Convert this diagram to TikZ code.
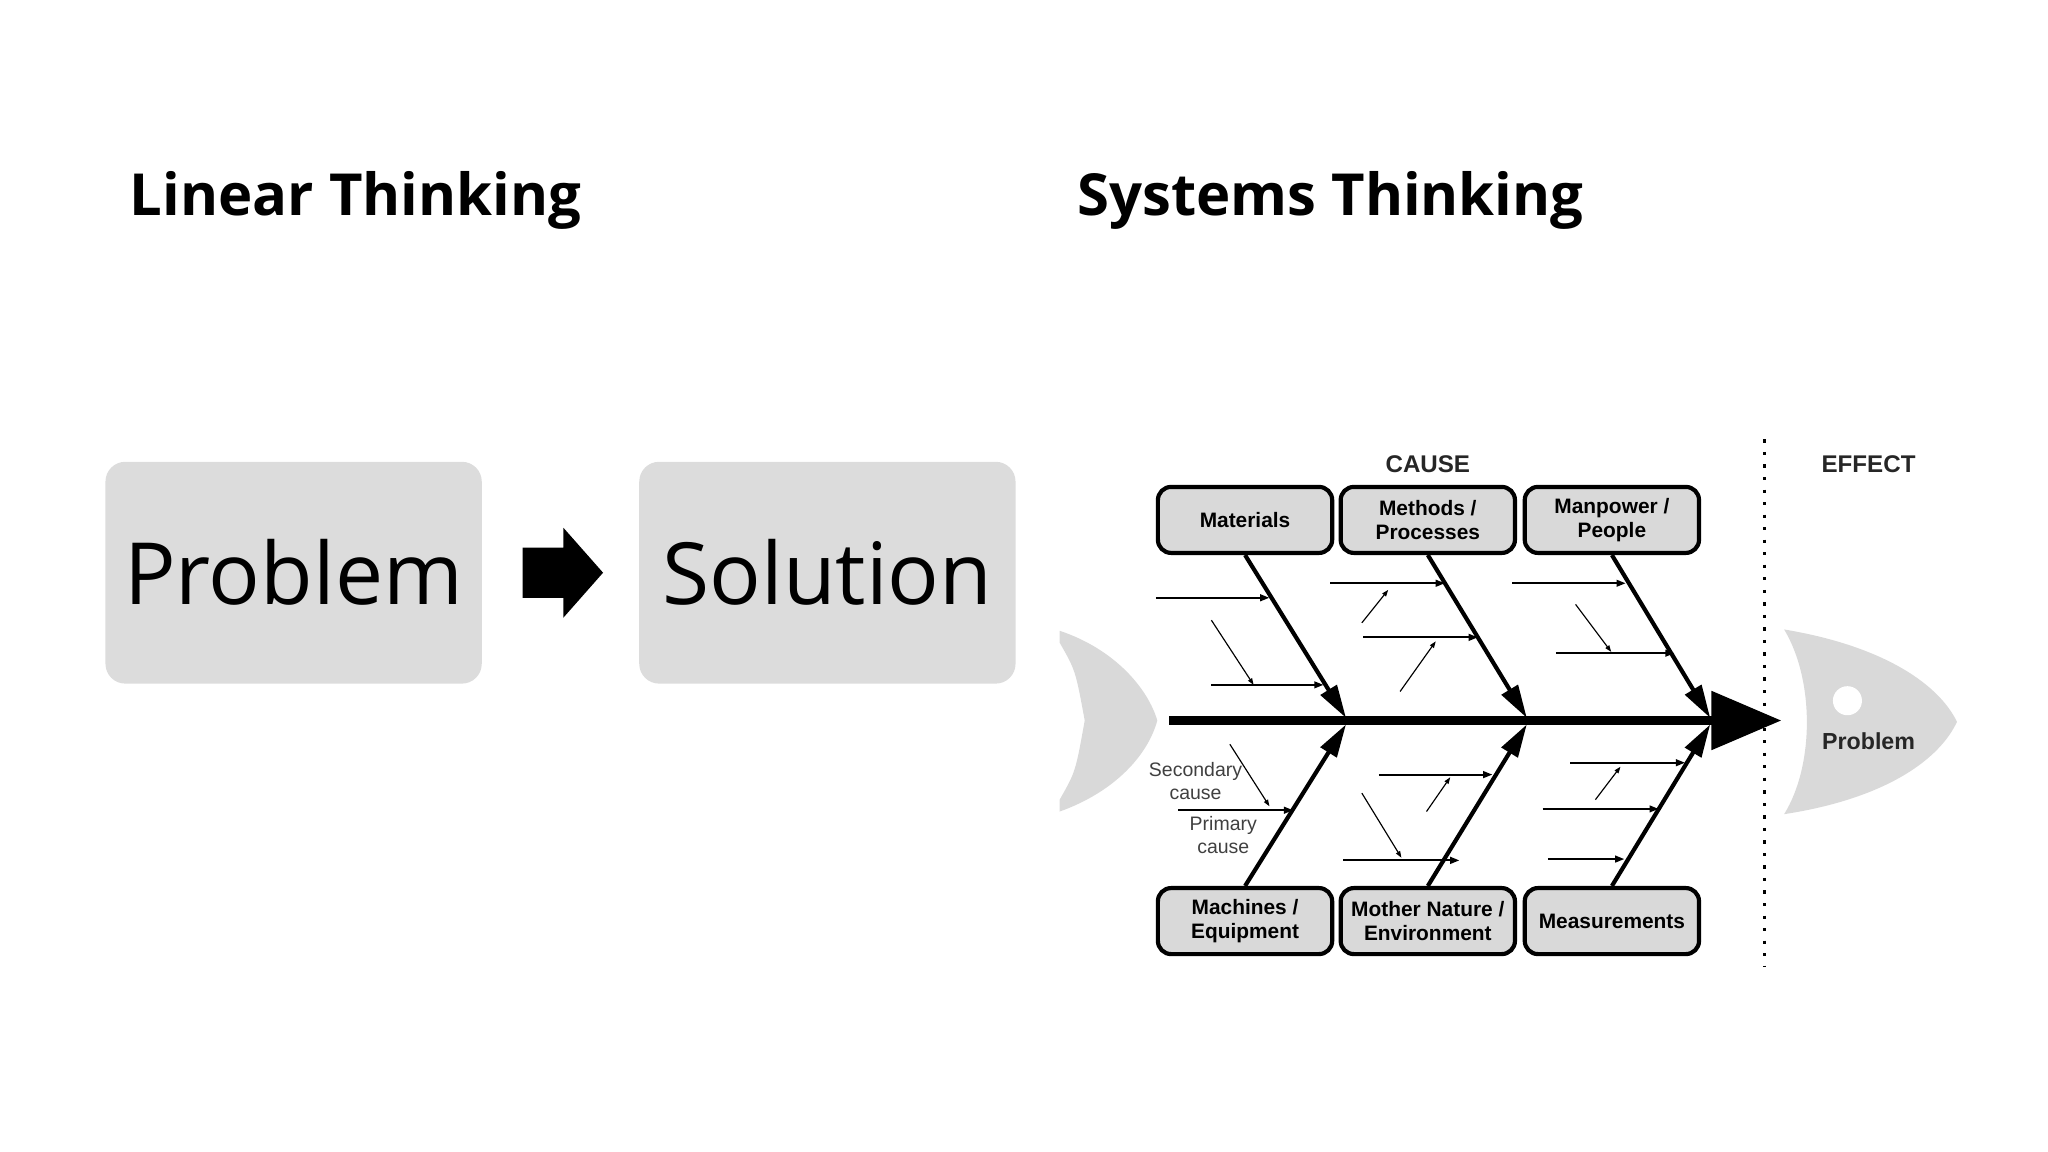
\documentclass[tikz,border=0pt]{standalone}
\usepackage{fontspec}
\setmainfont{Open Sans}
\newfontfamily\boxfont{Open Sans}
\newfontfamily\fishfont{Liberation Sans}
\usetikzlibrary{arrows.meta}
\definecolor{lgray}{HTML}{DCDCDC}
\definecolor{fgray}{HTML}{D9D9D9}
\begin{document}
\begin{tikzpicture}[x=0.01cm,y=-0.01cm,
  heading/.style={anchor=west,font=\fontsize{12.5}{14}\selectfont\bfseries},
  bigbox/.style={fill=lgray,rounded corners=0.15cm,text width=2.85cm,align=center,inner sep=0pt,minimum height=1.68cm,font=\boxfont\fontsize{18.5}{22}\selectfont},
  cbox/.style={draw=black,line width=0.9pt,fill=fgray,rounded corners=0.1cm,minimum width=1.32cm,minimum height=0.5cm,align=center,font=\fishfont\bfseries\fontsize{4.5}{5.2}\selectfont,inner sep=1pt},
  bone/.style={line width=0.9pt,-{Triangle[length=0.25cm,width=0.14cm]}},
  prim/.style={line width=0.45pt,-{Triangle[length=0.07cm,width=0.05cm]}},
  sec/.style={line width=0.25pt,-{Triangle[length=0.05cm,width=0.035cm]}},
  lbl/.style={font=\fishfont\fontsize{4.2}{4.9}\selectfont,align=center,text=black!75}]
\useasboundingbox (0,0) rectangle (1552,873);
\node[heading] (lt) at (86,152) {Linear Thinking};
\node[heading] (st) at (804,152) {Systems Thinking};
\node[bigbox] (prob) at (222.5,434) {Problem};
\node[bigbox] (sol) at (627,434) {Solution};
\fill (396,415) -- (427,415) -- (427,400) -- (457,434) -- (427,468) -- (427,453) -- (396,453) -- cycle;
% tail
\fill[fgray] (803,478) .. controls (845,492) and (870,522) .. (877,546) .. controls (870,572) and (845,600) .. (803,615) -- (803,606) .. controls (815,585) .. (822,546) .. controls (815,508) .. (803,487) -- cycle;
% head
\fill[fgray] (1352,477) .. controls (1430,490) and (1470,520) .. (1483,547) .. controls (1470,575) and (1430,605) .. (1352,617) .. controls (1375,580) and (1375,515) .. (1352,477) -- cycle;
\fill[white] (1400,531) circle[radius=11];
\node[font=\fishfont\bfseries\fontsize{5}{6}\selectfont,text=black!85] (eff) at (1416,562) {Problem};
\draw[line width=0.7pt,dotted] (1337,333) -- (1337,732);
\node[font=\fishfont\bfseries\fontsize{5.2}{6}\selectfont,text=black!85] (cause) at (1082,352) {CAUSE};
\node[font=\fishfont\bfseries\fontsize{5.2}{6}\selectfont,text=black!85] (effect) at (1416,352) {EFFECT};
% spine
\coordinate (s0) at (886,546);
\coordinate (s1) at (1350,546);
\draw[line width=2pt,-{Triangle[length=0.53cm,width=0.43cm]}] (s0) -- (s1);
% boxes
\node[cbox] (mat) at (943.5,394) {Materials};
\node[cbox] (met) at (1082,394) {Methods /\\Processes};
\node[cbox] (man) at (1221.5,394) {Manpower /\\People};
\node[cbox] (mac) at (943.5,698) {Machines /\\Equipment};
\node[cbox] (mot) at (1082,698) {Mother Nature /\\Environment};
\node[cbox] (mea) at (1221.5,698) {Measurements};
\coordinate (a1) at (1020,544); \coordinate (a2) at (1157,544); \coordinate (a3) at (1296,544);
\coordinate (b1) at (1020,549); \coordinate (b2) at (1157,549); \coordinate (b3) at (1296,549);
\draw[bone] (mat.south) -- (a1);
\draw[bone] (met.south) -- (a2);
\draw[bone] (man.south) -- (a3);
\draw[bone] (mac.north) -- (b1);
\draw[bone] (mot.north) -- (b2);
\draw[bone] (mea.north) -- (b3);
% small arrows top
\draw[prim] (876,453) -- (962,453);
\draw[sec] (918,470) -- (950,519);
\draw[prim] (918,519) -- (1003,519);
\draw[prim] (1008,442) -- (1095,442);
\draw[sec] (1032,472) -- (1052,447);
\draw[prim] (1033,483) -- (1120,483);
\draw[sec] (1061,524) -- (1088,486);
\draw[prim] (1146,442) -- (1232,442);
\draw[sec] (1194,458) -- (1221,494);
\draw[prim] (1179,495) -- (1269,495);
% bottom
\draw[sec] (932,564) -- (962,611);
\draw[prim] (893,614) -- (980,614);
\node[lbl] (sc) at (906,592) {Secondary\\cause};
\node[lbl] (pc) at (927,633) {Primary\\cause};
\draw[prim] (1045,587) -- (1131,587);
\draw[sec] (1081,615) -- (1099,589);
\draw[sec] (1032,601) -- (1062,650);
\draw[prim] (1018,652) -- (1106,652);
\draw[prim] (1190,578) -- (1277,578);
\draw[sec] (1209,606) -- (1228,581);
\draw[prim] (1169,613) -- (1257,613);
\draw[prim] (1173,651) -- (1231,651);
\end{tikzpicture}
\end{document}
